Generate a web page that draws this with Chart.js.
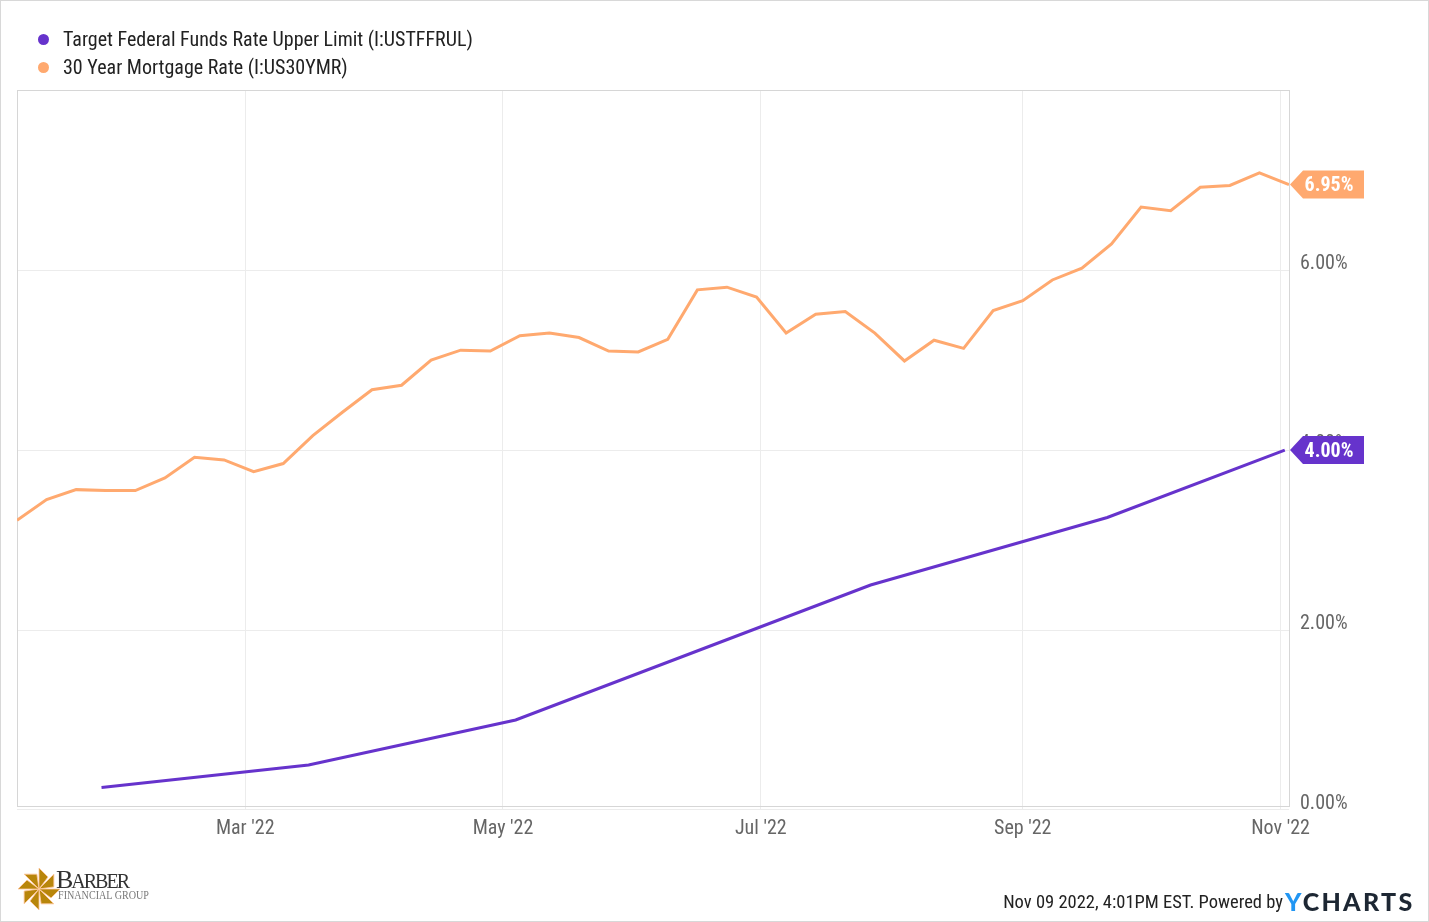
<!DOCTYPE html>
<html>
<head>
<meta charset="utf-8">
<title>Fed funds vs mortgage rate</title>
<script src="https://cdn.jsdelivr.net/npm/chart.js@4"></script>
<style>
  html, body { margin: 0; padding: 0; background: #fff; }
  #wrap { position: relative; width: 1429px; height: 922px; overflow: hidden; font-family: Roboto, sans-serif; font-stretch: condensed; }
  #wrap::after { content: ""; position: absolute; inset: 0; border: 1px solid #d8d8d8; pointer-events: none; }
  canvas { position: absolute; left: 0; top: 0; }
  .legend-row { position: absolute; left: 38px; font-size: 20px; line-height: 26px; color: #222; white-space: nowrap; }
  .legend-row i { position: absolute; left: 0; top: 8px; width: 11px; height: 11px; border-radius: 50%; }
  .legend-row span { position: absolute; left: 25px; top: 0; }
  #stamp { position: absolute; right: 146px; top: 889px; font-size: 18.5px; line-height: 26px; color: #222; white-space: nowrap; }
  #ycharts { position: absolute; left: 1285px; top: 886px; font: 900 25px/30px Lato, sans-serif; letter-spacing: 2.3px; color: #1d2733; white-space: nowrap; }
  #ycharts b { color: #2196f3; font-weight: 900; }
  #logo { position: absolute; left: 17px; top: 866px; }
</style>
</head>
<body>
<div id="wrap">
  <canvas id="chart" width="1429" height="922"></canvas>
  <div id="legend"></div>
  <svg id="logo" width="140" height="46" viewBox="0 0 140 46">
    <g transform="translate(22,23)" fill="#b8860b" stroke="#ffc79c" stroke-width="0.8">
      <polygon points="0,0 0,-21 9,-12"/>
      <polygon points="0,0 0,-21 9,-12" transform="rotate(45)"/>
      <polygon points="0,0 0,-21 9,-12" transform="rotate(90)"/>
      <polygon points="0,0 0,-21 9,-12" transform="rotate(135)"/>
      <polygon points="0,0 0,-21 9,-12" transform="rotate(180)"/>
      <polygon points="0,0 0,-21 9,-12" transform="rotate(225)"/>
      <polygon points="0,0 0,-21 9,-12" transform="rotate(270)"/>
      <polygon points="0,0 0,-21 9,-12" transform="rotate(315)"/>
    </g>
    <text x="39" y="22" font-family="Liberation Serif" font-size="26" fill="#333" textLength="74">B<tspan font-size="20">ARBER</tspan></text>
    <text x="41" y="33" font-family="Liberation Serif" font-size="12" fill="#777" textLength="91" lengthAdjust="spacingAndGlyphs">FINANCIAL GROUP</text>
  </svg>
  <div id="stamp">Nov 09 2022, 4:01PM EST. Powered by</div>
  <div id="ycharts"><b>Y</b>CHARTS</div>
</div>
<script>
// weekly survey dates and rates
const mortgageDates = [
  "2022-01-06", "2022-01-13", "2022-01-20", "2022-01-27", "2022-02-03", "2022-02-10", "2022-02-17", "2022-02-24",
  "2022-03-03", "2022-03-10", "2022-03-17", "2022-03-24", "2022-03-31", "2022-04-07", "2022-04-14", "2022-04-21",
  "2022-04-28", "2022-05-05", "2022-05-12", "2022-05-19", "2022-05-26", "2022-06-02", "2022-06-09", "2022-06-16",
  "2022-06-23", "2022-06-30", "2022-07-07", "2022-07-14", "2022-07-21", "2022-07-28", "2022-08-04", "2022-08-11",
  "2022-08-18", "2022-08-25", "2022-09-01", "2022-09-08", "2022-09-15", "2022-09-22", "2022-09-29", "2022-10-06",
  "2022-10-13", "2022-10-20", "2022-10-27", "2022-11-03"
];
const mortgageRates = [
  3.22, 3.45, 3.56, 3.55, 3.55, 3.69, 3.92, 3.89,
  3.76, 3.85, 4.16, 4.42, 4.67, 4.72, 5.00, 5.11,
  5.10, 5.27, 5.30, 5.25, 5.10, 5.09, 5.23, 5.78,
  5.81, 5.70, 5.30, 5.51, 5.54, 5.30, 4.99, 5.22,
  5.13, 5.55, 5.66, 5.89, 6.02, 6.29, 6.70, 6.66,
  6.92, 6.94, 7.08, 6.95
];

const fedDates = ["2022-01-26", "2022-03-16", "2022-05-04", "2022-06-15", "2022-07-27", "2022-09-21", "2022-11-02"];
const fedRates = [0.25, 0.50, 1.00, 1.75, 2.50, 3.25, 4.00];

const xTickDates = ["2022-03-01", "2022-05-01", "2022-07-01", "2022-09-01", "2022-11-01"];
const xTickLabels = ["Mar '22", "May '22", "Jul '22", "Sep '22", "Nov '22"];
const yTickValues = [0, 2, 4, 6];

const FED_NAME = "Target Federal Funds Rate Upper Limit (I:USTFFRUL)";
const MORTGAGE_NAME = "30 Year Mortgage Rate (I:US30YMR)";
const PURPLE = "#6633cc";
const ORANGE = "#ffa96f";
const GRID = "#ececec";
const FRAME = "#d6d6d6";
const FONT = "Roboto, sans-serif";

const toDay = s => Date.parse(s) / 86400000;
const toPoints = (dates, values) => dates.map((d, i) => ({ x: toDay(d), y: values[i] }));

// box around the plot
const framePlugin = {
  id: "frame",
  beforeDatasetsDraw(chart) {
    const { ctx, chartArea: a } = chart;
    ctx.save();
    ctx.strokeStyle = FRAME;
    ctx.lineWidth = 1;
    ctx.strokeRect(a.left + 0.5, a.top - 0.5, a.right - a.left, a.bottom - a.top);
    ctx.restore();
  }
};

// value tags at the end of each line
const tagPlugin = {
  id: "endTags",
  afterDraw(chart) {
    const { ctx, chartArea: a, scales } = chart;
    chart.data.datasets.forEach(ds => {
      const last = ds.data[ds.data.length - 1];
      const y = scales.y.getPixelForValue(last.y);
      ctx.save();
      ctx.fillStyle = ds.borderColor;
      ctx.beginPath();
      ctx.moveTo(a.right + 1, y);
      ctx.lineTo(a.right + 14, y - 14);
      ctx.lineTo(a.right + 75, y - 14);
      ctx.lineTo(a.right + 75, y + 14);
      ctx.lineTo(a.right + 14, y + 14);
      ctx.closePath();
      ctx.fill();
      ctx.fillStyle = "#fff";
      ctx.font = "condensed bold 20px " + FONT;
      ctx.textAlign = "center";
      ctx.textBaseline = "middle";
      ctx.fillText(last.y.toFixed(2) + "%", a.right + 40, y + 1.5);
      ctx.restore();
    });
  }
};

const chart = new Chart(document.getElementById("chart"), {
  type: "line",
  data: {
    datasets: [
      { label: FED_NAME, data: toPoints(fedDates, fedRates), borderColor: PURPLE, backgroundColor: PURPLE, borderWidth: 3, pointRadius: 0, tension: 0 },
      { label: MORTGAGE_NAME, data: toPoints(mortgageDates, mortgageRates), borderColor: ORANGE, backgroundColor: ORANGE, borderWidth: 3, pointRadius: 0, tension: 0 }
    ]
  },
  options: {
    responsive: false,
    animation: false,
    events: [],
    layout: { padding: { left: 17, top: 91, right: 0, bottom: 0 } },
    plugins: { legend: { display: false }, tooltip: { enabled: false } },
    scales: {
      x: {
        type: "linear",
        min: toDay(mortgageDates[0]),
        max: toDay(mortgageDates[mortgageDates.length - 1]),
        afterBuildTicks: s => { s.ticks = xTickDates.map(d => ({ value: toDay(d) })); },
        afterFit: s => { s.height = 115; },
        grid: { color: GRID, tickLength: 3, tickColor: GRID },
        border: { display: false },
        ticks: {
          autoSkip: false,
          maxRotation: 0,
          padding: 7,
          color: "#666",
          // the font string takes the stretch keyword through the weight slot
          font: { family: FONT, size: 20, weight: "condensed" },
          callback: (v, i) => xTickLabels[i]
        }
      },
      y: {
        position: "right",
        min: 0.033,
        max: 7.99,
        afterBuildTicks: s => { s.ticks = yTickValues.map(v => ({ value: v })); },
        afterFit: s => { s.width = 140; },
        grid: { color: GRID, drawTicks: false },
        border: { display: false },
        ticks: {
          padding: 11,
          color: "#666",
          font: { family: FONT, size: 20, weight: "condensed", lineHeight: 0.6 },
          // the empty second line lifts the label above its grid line
          callback: v => [v.toFixed(2) + "%", ""]
        }
      }
    }
  },
  plugins: [framePlugin, tagPlugin]
});

// legend sits in the page, built from the datasets
const legendBox = document.getElementById("legend");
chart.data.datasets.forEach((ds, i) => {
  const row = document.createElement("div");
  row.className = "legend-row";
  row.style.top = (26 + i * 28) + "px";
  row.innerHTML = `<i style="background:${ds.borderColor}"></i><span>${ds.label}</span>`;
  legendBox.appendChild(row);
});
</script>
</body>
</html>
